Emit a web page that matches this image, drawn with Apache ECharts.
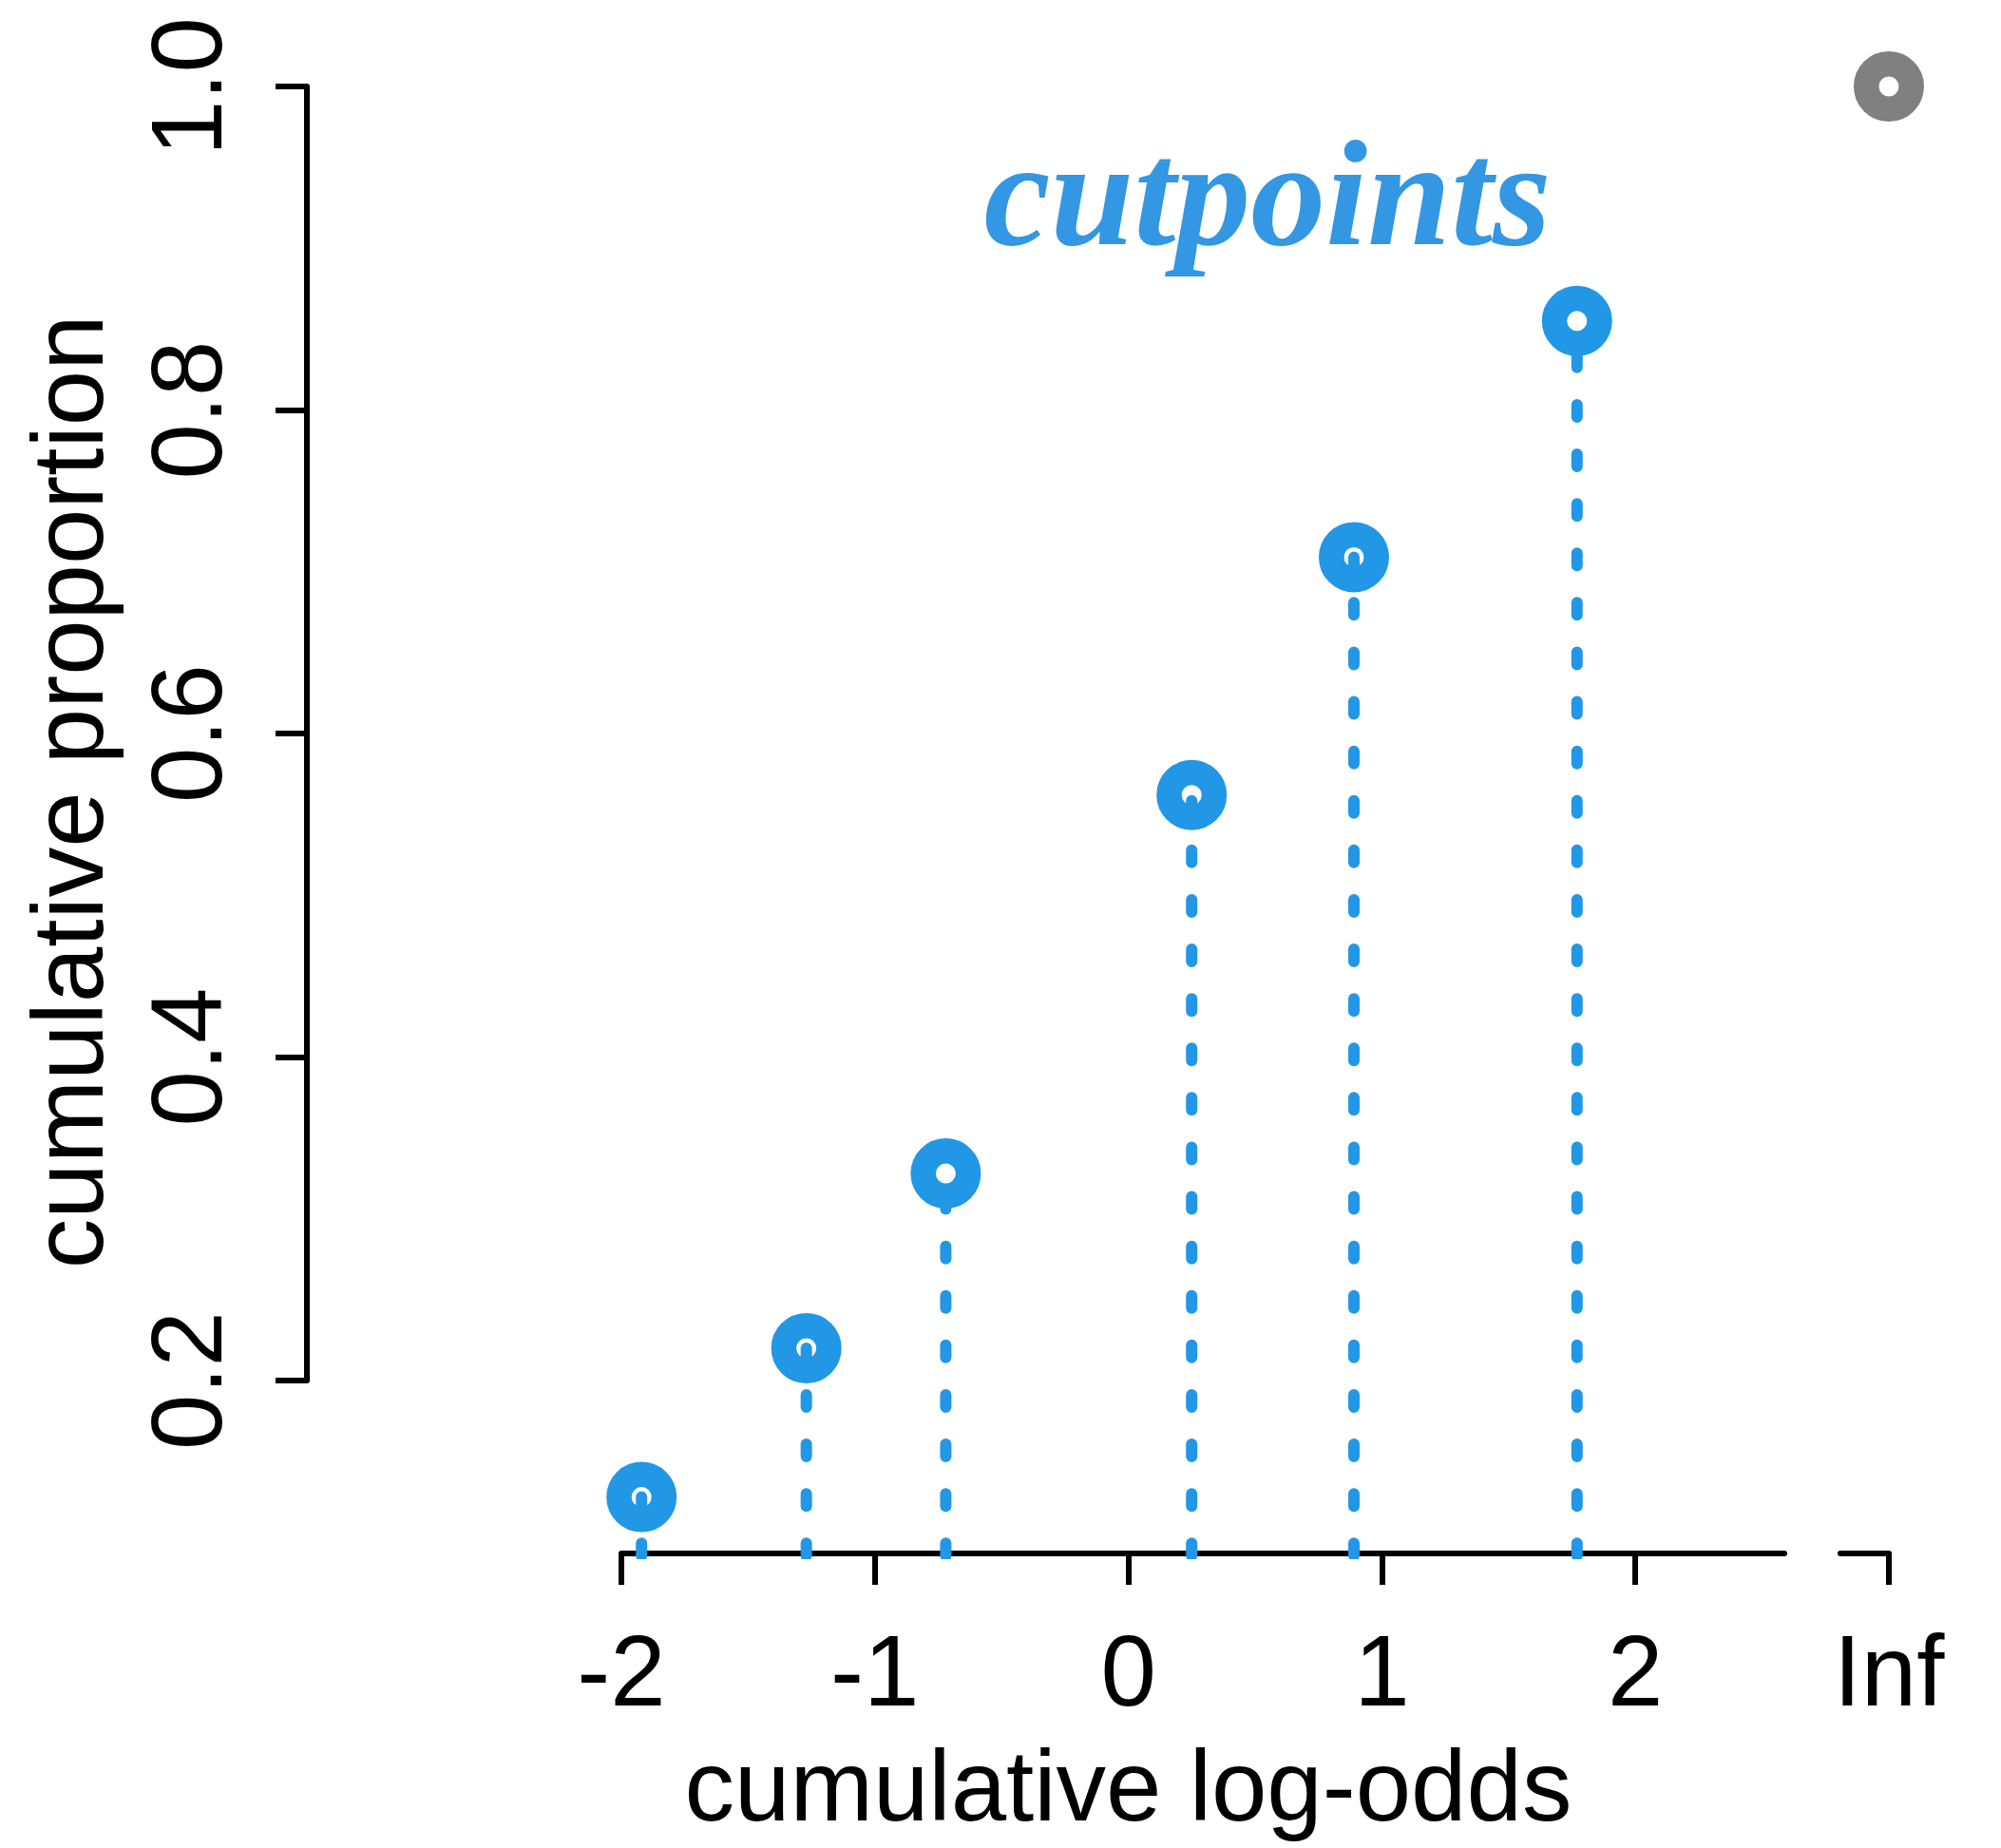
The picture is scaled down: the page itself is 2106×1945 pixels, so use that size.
<!DOCTYPE html>
<html>
<head>
<meta charset="utf-8">
<title>cumulative log-odds</title>
<script src="https://cdn.jsdelivr.net/npm/echarts@6/dist/echarts.min.js"></script>
<style>
  html, body { margin: 0; padding: 0; background: #ffffff; }
  #chart { width: 2106px; height: 1945px; }
</style>
</head>
<body>
<div id="chart"></div>
<script>
// Cumulative proportion of each response level against its cumulative log-odds.
// The last level has cumulative proportion 1, i.e. log-odds = Inf.
const cutLogOdds = [-1.92, -1.27, -0.72, 0.25, 0.89, 1.77];
const cutProp    = [0.128, 0.220, 0.328, 0.562, 0.709, 0.855];
const lastProp   = 1.0;

const xTickValues = [-2, -1, 0, 1, 2, 3];
const xTickLabels = ['-2', '-1', '0', '1', '2', 'Inf'];
const yTickValues = [0.2, 0.4, 0.6, 0.8, 1.0];

const INF_AT = 3;             // x position used for the Inf column
const XLIM = [-3, 3];         // plotted x range before padding

const BLUE = '#2297e6';
const TEXT_BLUE = '#3397e3';
const GREY = '#808080';
const FONT = '"Liberation Sans", Arial, Helvetica, sans-serif';

// pad a range by 4% on each side
function padRange(lo, hi) {
  const d = (hi - lo) * 0.04;
  return [lo - d, hi + d];
}
const xRange = padRange(XLIM[0], XLIM[1]);
const yRange = padRange(Math.min(...cutProp), lastProp);

const axisLineStyle = { color: '#000', width: 6 };
const hiddenAxis = {
  show: true,
  axisLine: { show: false, onZero: false }, axisTick: { show: false },
  axisLabel: { show: false }, splitLine: { show: false }
};

// Dotted stems from zero up to each cutpoint
const stems = cutLogOdds.map((x, i) => ({
  type: 'line',
  xAxisIndex: 0, yAxisIndex: 0,
  data: [[x, 0], [x, cutProp[i]]],
  showSymbol: false,
  symbol: 'none',
  clip: true,
  silent: true,
  z: 4,
  lineStyle: { color: BLUE, width: 12, type: [13, 39.1], cap: 'round', opacity: 1 }
}));

const pointStyle = (c) => ({ color: '#ffffff', borderColor: c, borderWidth: 26.5, opacity: 1 });

const option = {
  animation: false,
  backgroundColor: '#ffffff',
  grid: [
    // full plotting region
    { left: 323, top: 31.6, width: 1729, height: 1603.4, containLabel: false, outerBoundsMode: 'none' },
    // region spanned by the ticked axes (-2..Inf, 0.2..1.0)
    { left: 654, top: 91, width: 1334, height: 1362, containLabel: false, outerBoundsMode: 'none' },
    // baseline segment under the finite log-odds
    { left: 654, top: 1535, width: 1224, height: 100, containLabel: false, outerBoundsMode: 'none' },
    // short baseline segment at Inf
    { left: 1937, top: 1535, width: 51, height: 100, containLabel: false, outerBoundsMode: 'none' }
  ],
  xAxis: [
    {
      gridIndex: 0, type: 'value', min: xRange[0], max: xRange[1],
      ...hiddenAxis,
      name: 'cumulative log-odds', nameLocation: 'middle', nameGap: 200,
      nameTextStyle: { fontFamily: FONT, fontSize: 105, color: '#000' }
    },
    {
      gridIndex: 1, type: 'value', min: -2, max: INF_AT, interval: 1,
      position: 'bottom', offset: 182,
      axisLine: { show: false, onZero: false },
      axisTick: { show: true, length: 33, lineStyle: { color: '#000', width: 6 } },
      axisLabel: {
        show: true, margin: 79, fontFamily: FONT, fontSize: 105, color: '#000',
        showMinLabel: true, showMaxLabel: true,
        formatter: (v) => {
          const k = xTickValues.findIndex(t => Math.abs(t - v) < 1e-9);
          return k >= 0 ? xTickLabels[k] : '';
        }
      },
      splitLine: { show: false }
    },
    {
      gridIndex: 2, type: 'value', min: -2, max: 2.59, position: 'bottom',
      axisLine: { show: true, onZero: false, lineStyle: axisLineStyle },
      axisTick: { show: false }, axisLabel: { show: false }, splitLine: { show: false }
    },
    {
      gridIndex: 3, type: 'value', min: 2.81, max: INF_AT, position: 'bottom',
      axisLine: { show: true, onZero: false, lineStyle: axisLineStyle },
      axisTick: { show: false }, axisLabel: { show: false }, splitLine: { show: false }
    }
  ],
  yAxis: [
    {
      gridIndex: 0, type: 'value', min: yRange[0], max: yRange[1],
      ...hiddenAxis,
      name: 'cumulative proportion', nameLocation: 'middle', nameGap: 191, nameRotate: 90,
      nameTextStyle: { fontFamily: FONT, fontSize: 105, color: '#000' }
    },
    {
      gridIndex: 1, type: 'value', min: yTickValues[0], max: yTickValues[yTickValues.length - 1],
      interval: 0.2, position: 'left', offset: 331,
      axisLine: { show: true, onZero: false, lineStyle: axisLineStyle },
      axisTick: { show: true, length: 33, lineStyle: { color: '#000', width: 6 } },
      axisLabel: {
        show: true, rotate: 90, margin: 66, fontFamily: FONT, fontSize: 105, color: '#000',
        showMinLabel: true, showMaxLabel: true,
        formatter: (v) => v.toFixed(1)
      },
      splitLine: { show: false }
    },
    { gridIndex: 2, type: 'value', min: 0, max: 1, ...hiddenAxis },
    { gridIndex: 3, type: 'value', min: 0, max: 1, ...hiddenAxis }
  ],
  graphic: [
    {
      type: 'text', x: 1334, y: 216, z: 10,
      style: {
        text: 'cutpoints', fill: TEXT_BLUE,
        font: 'italic bold 158px "Liberation Serif", "Times New Roman", serif',
        textAlign: 'center', textVerticalAlign: 'middle'
      }
    }
  ],
  series: [
    {
      type: 'scatter', xAxisIndex: 0, yAxisIndex: 0, z: 3,
      data: cutLogOdds.map((x, i) => [x, cutProp[i]]),
      symbol: 'circle', symbolSize: 47.5,
      itemStyle: pointStyle(BLUE)
    },
    {
      type: 'scatter', xAxisIndex: 0, yAxisIndex: 0, z: 3,
      data: [[INF_AT, lastProp]],
      symbol: 'circle', symbolSize: 47.5,
      itemStyle: pointStyle(GREY)
    },
    ...stems
  ]
};

const chart = echarts.init(document.getElementById('chart'), null, { renderer: 'canvas', width: 2106, height: 1945 });
chart.setOption(option);
</script>
</body>
</html>
